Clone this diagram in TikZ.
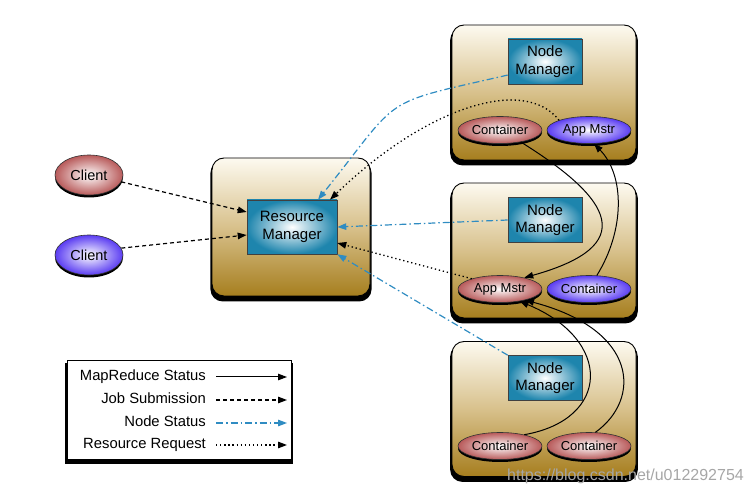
\documentclass[tikz,border=0pt]{standalone}
\usepackage{fontspec}
\setmainfont{Liberation Sans}
\usetikzlibrary{shapes.geometric,shadows,arrows.meta}
\definecolor{gold}{HTML}{A67E1E}
\definecolor{cream}{HTML}{FDFAF0}
\definecolor{tan}{HTML}{D8C18C}
\definecolor{nmblue}{HTML}{1E85AD}
\definecolor{ellred}{HTML}{B85A5A}
\definecolor{ellblue}{HTML}{5A3CF2}
\definecolor{lnblue}{HTML}{2F8CC2}
\tikzset{
	blackshadow/.style={drop shadow={shadow xshift=0pt,shadow yshift=-4pt,shadow scale=1.02,fill=black,opacity=1}},
	hbox/.style 2 args={draw=black,line width=0.9pt,rounded corners=12pt,inner sep=0pt,top color=cream,bottom color=gold,middle color=tan,minimum width=#1,minimum height=#2,blackshadow},
	mbox/.style 2 args={draw=black!75,line width=0.6pt,inner sep=0pt,inner color=white,outer color=nmblue,minimum width=#1,minimum height=#2,align=center,font=\fontsize{15}{17.5}\selectfont},
	ell/.style={ellipse,draw=black!80,line width=0.6pt,inner sep=0pt,inner color=white,outer color=#1,minimum width=84pt,minimum height=27pt,font=\fontsize{13}{15}\selectfont,drop shadow={shadow xshift=0pt,shadow yshift=-2.5pt,fill=black,opacity=1}},
	client/.style={ell=#1,minimum width=68pt,minimum height=40pt,font=\fontsize{14.5}{16}\selectfont},
	lgtext/.style={anchor=east,inner sep=0pt,text height=10pt,text depth=3pt,font=\fontsize{14.8}{16}\selectfont},
	tip/.style={-{Triangle[length=9pt,width=6.5pt]}},
	mrline/.style={tip,line width=1pt},
	jobline/.style={tip,line width=1.2pt,dash pattern=on 4pt off 3pt},
	nsline/.style={tip,line width=1.2pt,lnblue,dash pattern=on 7pt off 3pt on 1.5pt off 3pt},
	rrline/.style={tip,line width=1.3pt,dash pattern=on 1.3pt off 2.8pt}
}

\begin{document}
\begin{tikzpicture}[x=1pt,y=-1pt]
	\useasboundingbox (0,0) rectangle (753,494);

	\node [hbox={158}{138}] (rmhost) at (291,227) {};
	\node [hbox={184}{135}] (host1) at (544,92.5) {};
	\node [hbox={184}{135}] (host2) at (544,250.5) {};
	\node [hbox={184}{135}] (host3) at (544,409) {};

	\node [mbox={90}{54}] (rm) at (292,227) {Resource\\Manager};
	\node [mbox={74}{45}] (nm1) at (545,61.5) {Node\\Manager};
	\node [mbox={74}{45}] (nm2) at (545,220) {Node\\Manager};
	\node [mbox={74}{45}] (nm3) at (545,378) {Node\\Manager};

	\node [client=ellred] (c1) at (89,175) {Client};
	\node [client=ellblue] (c2) at (89,255) {Client};
	\node [ell=ellred] (con1) at (500,130) {Container};
	\node [ell=ellblue] (am1) at (589,130) {App Mstr};
	\node [ell=ellred] (am2) at (500,289) {App Mstr};
	\node [ell=ellblue] (con2) at (589,289) {Container};
	\node [ell=ellred] (con3) at (500,446) {Container};
	\node [ell=ellred] (con4) at (589,446) {Container};

	\draw [jobline] (c1.-12) -- ([yshift=15pt]rm.west);
	\draw [jobline] (c2.12) -- ([yshift=-8pt]rm.west);
	\draw [nsline] (nm1.200) .. controls +(-131,30) and +(85,-106) .. ([xshift=26pt]rm.north);
	\draw [rrline] (am1.162) .. controls +(-35,-45) and +(95,-92) .. ([xshift=38pt]rm.north);
	\draw [nsline] (nm2.west) -- (rm.east);
	\draw [rrline] (am2.160) -- ([yshift=-16pt]rm.east);
	\draw [nsline] (nm3.north west) -- (rm.south east);

	\draw [mrline] (con1.-30) .. controls +(93,58) and +(115,-32) .. (am2.25);
	\draw [mrline] (con2.60) .. controls +(28,-45) and +(31,32) .. (am1.-70);
	\draw [mrline] (con3.25) .. controls +(86,-15) and +(94,39) .. (am2.-32);
	\draw [mrline] (con4.65) .. controls +(46,-33) and +(114,30) .. (am2.-24);

	\node [draw=black,line width=0.8pt,fill=white,minimum width=224pt,minimum height=99pt,inner sep=0pt,blackshadow] (legend) at (179,409.5) {};
	\node [lgtext] (lg1) at (206,377) {MapReduce Status};
	\node [lgtext] (lg2) at (206,400) {Job Submission};
	\node [lgtext] (lg3) at (206,423) {Node Status};
	\node [lgtext] (lg4) at (206,445) {Resource Request};
	\coordinate (le1) at (287,377);
	\coordinate (le2) at (287,400);
	\coordinate (le3) at (287,423);
	\coordinate (le4) at (287,445);
	\draw [mrline,shorten <=10pt] (lg1.east) -- (le1);
	\draw [jobline,shorten <=10pt] (lg2.east) -- (le2);
	\draw [nsline,shorten <=10pt] (lg3.east) -- (le3);
	\draw [rrline,shorten <=10pt] (lg4.east) -- (le4);

	\node [anchor=base west,inner sep=0pt,text=black!35,font=\fontsize{16}{18}\selectfont] (wm) at (507,481) {https://blog.csdn.net/u012292754};
\end{tikzpicture}
\end{document}
